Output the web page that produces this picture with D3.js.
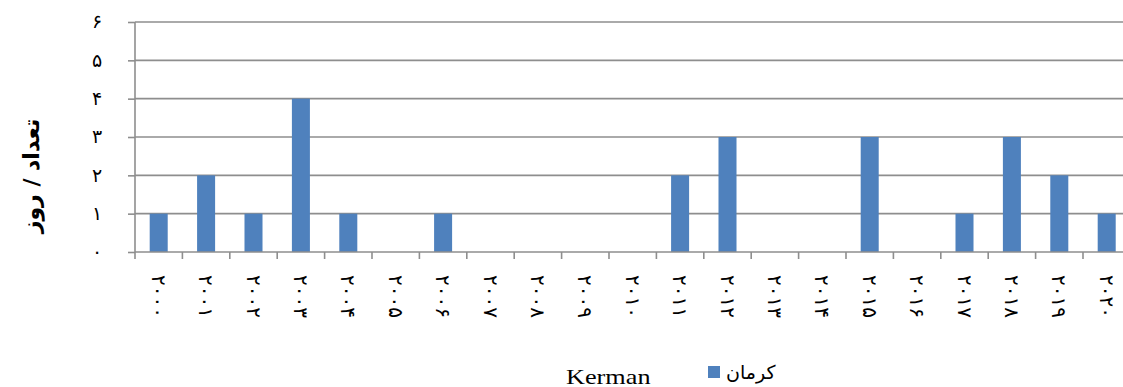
<!DOCTYPE html>
<html>
<head>
<meta charset="utf-8">
<script src="https://cdn.jsdelivr.net/npm/d3@7"></script>
<style>
  html, body { margin: 0; padding: 0; background: #fff; }
  svg { display: block; }
</style>
</head>
<body>
<svg id="chart" width="1123" height="387"></svg>
<script>
// Yearly counts for Kerman, 2000–2020
const years = ["۲۰۰۰","۲۰۰۱","۲۰۰۲","۲۰۰۳","۲۰۰۴","۲۰۰۵","۲۰۰۶","۲۰۰۷","۲۰۰۸","۲۰۰۹","۲۰۱۰",
               "۲۰۱۱","۲۰۱۲","۲۰۱۳","۲۰۱۴","۲۰۱۵","۲۰۱۶","۲۰۱۷","۲۰۱۸","۲۰۱۹","۲۰۲۰"];
const kermanValues = [1,2,1,4,1,0,1,0,0,0,0,2,3,0,0,3,0,1,3,2,1];
const yTicks = [0,1,2,3,4,5,6];
const yTickLabels = ["۰","۱","۲","۳","۴","۵","۶"];
const seriesName = "کرمان";
const seriesCaption = "Kerman";
const yTitle = "تعداد / روز";

const svg = d3.select("#chart");
const plotLeft = 135, plotTop = 22, plotBottom = 252;
const step = 47.4;
const plotRight = plotLeft + step * years.length;

const x = d3.scaleBand().domain(years).range([plotLeft, plotRight]).paddingInner(0.62).paddingOuter(0.31);
const xb = d3.scaleBand().domain(years).range([plotLeft, plotRight]).padding(0);
const y = d3.scaleLinear().domain([0, 6]).range([plotBottom, plotTop]);

const gridColor = "#8e8e8e";
const font = "'DejaVu Sans', 'Liberation Serif', serif";
const latinFont = "'Liberation Serif', 'Times New Roman', serif";

// horizontal gridlines
svg.append("g").selectAll("line").data(yTicks.slice(1)).join("line")
  .attr("x1", plotLeft).attr("x2", plotRight)
  .attr("y1", d => y(d)).attr("y2", d => y(d))
  .attr("stroke", gridColor).attr("stroke-width", 1.6);

// bars
svg.append("g").selectAll("rect").data(kermanValues).join("rect")
  .attr("x", (d, i) => x(years[i]))
  .attr("width", x.bandwidth())
  .attr("y", d => y(d))
  .attr("height", d => y(0) - y(d))
  .attr("fill", "#4f81bd");

// y axis
const yAxis = d3.axisLeft(y).tickValues(yTicks).tickSize(7).tickPadding(24)
  .tickFormat((d, i) => yTickLabels[i]);
const gy = svg.append("g").attr("transform", `translate(${plotLeft},0)`).call(yAxis);
gy.select(".domain").attr("stroke", gridColor).attr("stroke-width", 1.6).attr("d", `M0,${plotTop}V${plotBottom}`);
gy.selectAll(".tick line").attr("stroke", gridColor).attr("stroke-width", 1.6);
gy.selectAll(".tick text").attr("font-family", font).attr("font-size", 19).attr("fill", "#000")
  .attr("text-anchor", "middle").attr("x", -38).attr("dy", "0.3em");

// x axis with ticks at category boundaries
const gx = svg.append("g").attr("transform", `translate(0,${plotBottom})`);
gx.append("line").attr("x1", plotLeft).attr("x2", plotRight).attr("y1", 0).attr("y2", 0)
  .attr("stroke", gridColor).attr("stroke-width", 1.6);
gx.selectAll("line.tk").data(years).join("line").attr("class", "tk")
  .attr("x1", d => xb(d)).attr("x2", d => xb(d)).attr("y1", 0).attr("y2", 7)
  .attr("stroke", gridColor).attr("stroke-width", 1.6);

// rotated year labels
gx.selectAll("text").data(years).join("text")
  .attr("transform", d => `translate(${xb(d) + xb.bandwidth() / 2},23) rotate(90)`)
  .attr("text-anchor", "start")
  .attr("dominant-baseline", "central")
  .attr("font-family", font).attr("font-size", 20).attr("letter-spacing", 5).attr("fill", "#000")
  .text(d => d);

// y axis title
svg.append("text")
  .attr("transform", `translate(31,176) rotate(-90)`)
  .attr("text-anchor", "middle").attr("dominant-baseline", "central")
  .attr("font-family", font).attr("font-size", 22).attr("font-weight", "bold")
  .text(yTitle);

// legend
const lg = svg.append("g");
lg.append("rect").attr("x", 708).attr("y", 366).attr("width", 12).attr("height", 12).attr("fill", "#4f81bd");
lg.append("text").attr("x", 726).attr("y", 379).attr("text-anchor", "start")
  .attr("font-family", font).attr("font-size", 19)
  .text(seriesName);
lg.append("text").attr("transform", "translate(566,384) scale(1.25,1)").attr("text-anchor", "start")
  .attr("font-family", latinFont).attr("font-size", 21).text(seriesCaption);
</script>
</body>
</html>
